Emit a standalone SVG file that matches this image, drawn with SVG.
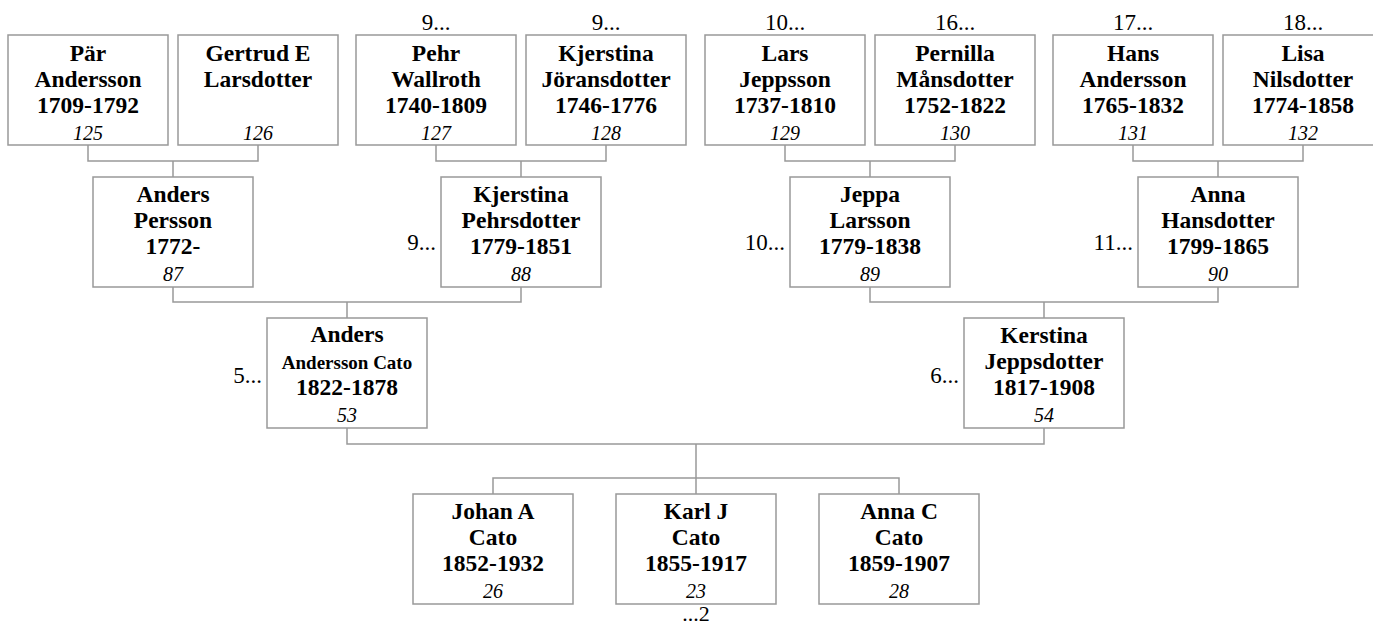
<svg xmlns="http://www.w3.org/2000/svg" width="1373" height="626" viewBox="0 0 1373 626">
<defs>
<style>
.box{fill:#fff;stroke:#999;stroke-width:1.5}
.ln{fill:none;stroke:#999;stroke-width:1.5}
text{font-family:'Liberation Serif','Times New Roman',serif;fill:#000}
.nm{font-weight:bold;font-size:23.5px;text-anchor:middle}
.sm{font-size:19px}
.id{font-style:italic;font-size:20px;text-anchor:middle}
.lb{font-size:23px}
.c{text-anchor:middle}
.r{text-anchor:end}
</style>
</defs>
<rect width="1373" height="626" fill="#fff"/>
<g id="connectors">
<path class="ln" d="M88,145V161H258V145M173,161V177"/>
<path class="ln" d="M436,145V161H606V145M521,161V177"/>
<path class="ln" d="M785,145V161H955V145M870,161V177"/>
<path class="ln" d="M1133,145V161H1303V145M1218,161V177"/>
<path class="ln" d="M173,287V302H521V287M347,302V318"/>
<path class="ln" d="M870,287V302H1218V287M1044,302V318"/>
<path class="ln" d="M347,428V444H1044V428M696,444V494"/>
<path class="ln" d="M493,494V478H899V494"/>
</g>
<g id="n125"><rect class="box" x="8" y="35" width="160" height="110"/><text class="nm" x="88" y="61">Pär</text><text class="nm" x="88" y="87">Andersson</text><text class="nm" x="88" y="113">1709-1792</text><text class="id" x="88" y="140">125</text></g>
<g id="n126"><rect class="box" x="178" y="35" width="160" height="110"/><text class="nm" x="258" y="61">Gertrud E</text><text class="nm" x="258" y="87">Larsdotter</text><text class="id" x="258" y="140">126</text></g>
<g id="n127"><text class="lb c" x="436" y="30">9...</text><rect class="box" x="356" y="35" width="160" height="110"/><text class="nm" x="436" y="61">Pehr</text><text class="nm" x="436" y="87">Wallroth</text><text class="nm" x="436" y="113">1740-1809</text><text class="id" x="436" y="140">127</text></g>
<g id="n128"><text class="lb c" x="606" y="30">9...</text><rect class="box" x="526" y="35" width="160" height="110"/><text class="nm" x="606" y="61">Kjerstina</text><text class="nm" x="606" y="87">Jöransdotter</text><text class="nm" x="606" y="113">1746-1776</text><text class="id" x="606" y="140">128</text></g>
<g id="n129"><text class="lb c" x="785" y="30">10...</text><rect class="box" x="705" y="35" width="160" height="110"/><text class="nm" x="785" y="61">Lars</text><text class="nm" x="785" y="87">Jeppsson</text><text class="nm" x="785" y="113">1737-1810</text><text class="id" x="785" y="140">129</text></g>
<g id="n130"><text class="lb c" x="955" y="30">16...</text><rect class="box" x="875" y="35" width="160" height="110"/><text class="nm" x="955" y="61">Pernilla</text><text class="nm" x="955" y="87">Månsdotter</text><text class="nm" x="955" y="113">1752-1822</text><text class="id" x="955" y="140">130</text></g>
<g id="n131"><text class="lb c" x="1133" y="30">17...</text><rect class="box" x="1053" y="35" width="160" height="110"/><text class="nm" x="1133" y="61">Hans</text><text class="nm" x="1133" y="87">Andersson</text><text class="nm" x="1133" y="113">1765-1832</text><text class="id" x="1133" y="140">131</text></g>
<g id="n132"><text class="lb c" x="1303" y="30">18...</text><rect class="box" x="1223" y="35" width="160" height="110"/><text class="nm" x="1303" y="61">Lisa</text><text class="nm" x="1303" y="87">Nilsdotter</text><text class="nm" x="1303" y="113">1774-1858</text><text class="id" x="1303" y="140">132</text></g>
<g id="n87"><rect class="box" x="93" y="177" width="160" height="110"/><text class="nm" x="173" y="202">Anders</text><text class="nm" x="173" y="228">Persson</text><text class="nm" x="173" y="254">1772-</text><text class="id" x="173" y="281">87</text></g>
<g id="n88"><text class="lb r" x="436" y="250">9...</text><rect class="box" x="441" y="177" width="160" height="110"/><text class="nm" x="521" y="202">Kjerstina</text><text class="nm" x="521" y="228">Pehrsdotter</text><text class="nm" x="521" y="254">1779-1851</text><text class="id" x="521" y="281">88</text></g>
<g id="n89"><text class="lb r" x="785" y="250">10...</text><rect class="box" x="790" y="177" width="160" height="110"/><text class="nm" x="870" y="202">Jeppa</text><text class="nm" x="870" y="228">Larsson</text><text class="nm" x="870" y="254">1779-1838</text><text class="id" x="870" y="281">89</text></g>
<g id="n90"><text class="lb r" x="1133" y="250">11...</text><rect class="box" x="1138" y="177" width="160" height="110"/><text class="nm" x="1218" y="202">Anna</text><text class="nm" x="1218" y="228">Hansdotter</text><text class="nm" x="1218" y="254">1799-1865</text><text class="id" x="1218" y="281">90</text></g>
<g id="n53"><text class="lb r" x="262" y="383">5...</text><rect class="box" x="267" y="318" width="160" height="110"/><text class="nm" x="347" y="342">Anders</text><text class="nm sm" x="347" y="369">Andersson Cato</text><text class="nm" x="347" y="395">1822-1878</text><text class="id" x="347" y="422">53</text></g>
<g id="n54"><text class="lb r" x="959" y="383">6...</text><rect class="box" x="964" y="318" width="160" height="110"/><text class="nm" x="1044" y="343">Kerstina</text><text class="nm" x="1044" y="369">Jeppsdotter</text><text class="nm" x="1044" y="395">1817-1908</text><text class="id" x="1044" y="422">54</text></g>
<g id="n26"><rect class="box" x="413" y="494" width="160" height="110"/><text class="nm" x="493" y="519">Johan A</text><text class="nm" x="493" y="545">Cato</text><text class="nm" x="493" y="571">1852-1932</text><text class="id" x="493" y="598">26</text></g>
<g id="n23"><rect class="box" x="616" y="494" width="160" height="110"/><text class="nm" x="696" y="519">Karl J</text><text class="nm" x="696" y="545">Cato</text><text class="nm" x="696" y="571">1855-1917</text><text class="id" x="696" y="598">23</text><text class="lb c" x="696" y="621" style="font-size:22px">...2</text></g>
<g id="n28"><rect class="box" x="819" y="494" width="160" height="110"/><text class="nm" x="899" y="519">Anna C</text><text class="nm" x="899" y="545">Cato</text><text class="nm" x="899" y="571">1859-1907</text><text class="id" x="899" y="598">28</text></g>
</svg>
